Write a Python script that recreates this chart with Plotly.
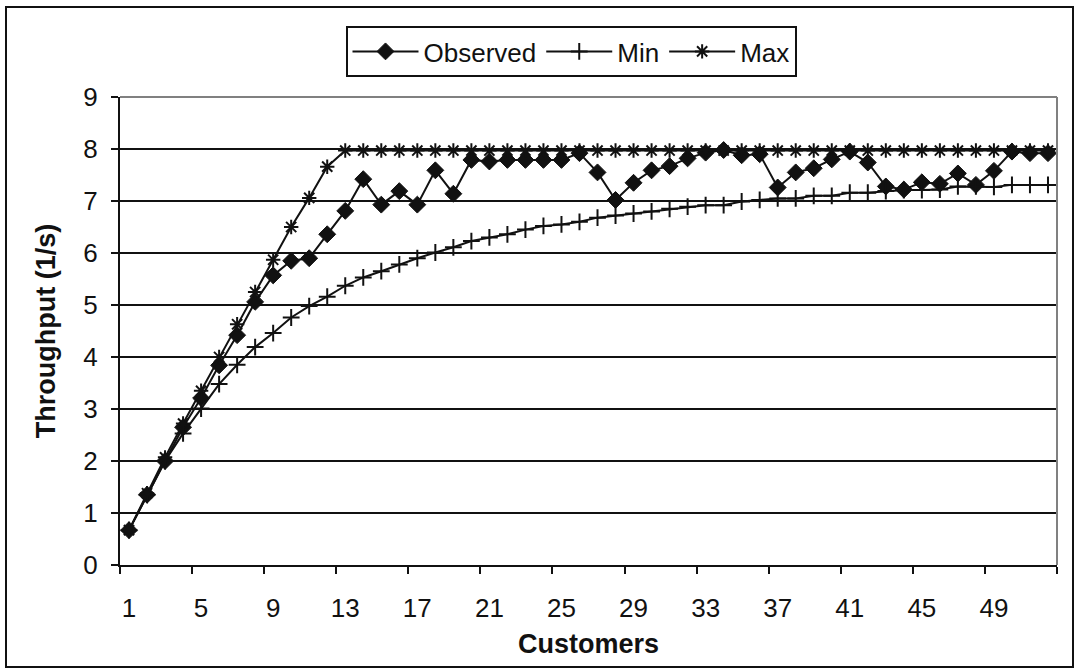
import plotly.graph_objects as go

customers = list(range(1, 53))
tick_labels = [1, 5, 9, 13, 17, 21, 25, 29, 33, 37, 41, 45, 49]

observed = [0.67, 1.35, 2.00, 2.65, 3.21, 3.84, 4.42, 5.06, 5.57, 5.85,
            5.90, 6.36, 6.81, 7.42, 6.93, 7.19, 6.93, 7.59, 7.14, 7.79,
            7.76, 7.79, 7.79, 7.79, 7.79, 7.92, 7.55, 7.02, 7.35, 7.59,
            7.67, 7.82, 7.93, 7.98, 7.88, 7.90, 7.26, 7.55, 7.63, 7.80,
            7.95, 7.74, 7.28, 7.22, 7.36, 7.33, 7.53, 7.31, 7.58, 7.95,
            7.92, 7.92]
minimum = [0.67, 1.35, 2.00, 2.53, 3.01, 3.48, 3.85, 4.19, 4.46, 4.76,
           4.98, 5.16, 5.37, 5.53, 5.65, 5.78, 5.90, 6.01, 6.11, 6.23,
           6.30, 6.36, 6.45, 6.52, 6.55, 6.60, 6.68, 6.72, 6.76, 6.80,
           6.85, 6.89, 6.92, 6.92, 6.99, 7.02, 7.05, 7.05, 7.10, 7.10,
           7.16, 7.16, 7.19, 7.21, 7.21, 7.22, 7.28, 7.28, 7.27, 7.31,
           7.31, 7.31]
maximum = [0.67, 1.38, 2.07, 2.72, 3.35, 4.00, 4.63, 5.25, 5.87, 6.50,
           7.06, 7.66, 7.97, 7.97, 7.97, 7.97, 7.97, 7.97, 7.97, 7.97,
           7.97, 7.97, 7.97, 7.97, 7.97, 7.97, 7.97, 7.97, 7.97, 7.97,
           7.97, 7.97, 7.97, 7.97, 7.97, 7.97, 7.97, 7.97, 7.97, 7.97,
           7.97, 7.97, 7.97, 7.97, 7.97, 7.97, 7.97, 7.97, 7.97, 7.97,
           7.97, 7.97]

W, H = 1079, 672
ML, MR, MT, MB = 120, 22, 97, 107
PW, PH = W - ML - MR, H - MT - MB

def px_x(p):
    return (p - ML) / PW

def px_y(p):
    return (H - MB - p) / PH

FONT = "Liberation Sans, Arial, sans-serif"
INK = "#111111"

fig = go.Figure()
fig.add_trace(go.Scatter(
    x=customers, y=observed, name="Observed", mode="lines+markers",
    line=dict(color=INK, width=2),
    marker=dict(symbol="diamond", size=13, color=INK,
                line=dict(color=INK, width=1))))
fig.add_trace(go.Scatter(
    x=customers, y=minimum, name="Min", mode="lines+markers",
    line=dict(color=INK, width=2),
    marker=dict(symbol="cross-thin-open", size=12,
                line=dict(color=INK, width=2))))
fig.add_trace(go.Scatter(
    x=customers, y=maximum, name="Max", mode="lines+markers",
    line=dict(color=INK, width=2),
    marker=dict(symbol="asterisk-open", size=12,
                line=dict(color=INK, width=2))))

fig.update_layout(
    width=W, height=H,
    margin=dict(l=ML, r=MR, t=MT, b=MB),
    paper_bgcolor="white", plot_bgcolor="white",
    font=dict(family=FONT, size=26, color=INK),
    showlegend=True,
    legend=dict(orientation="h", x=px_x(571), xanchor="center",
                y=px_y(26), yanchor="top",
                bordercolor=INK, borderwidth=2,
                font=dict(size=26), itemwidth=66,
                tracegroupgap=0),
    xaxis=dict(range=[0.5, 52.5], tickmode="array", tickvals=tick_labels,
               ticktext=[str(t) for t in tick_labels], ticks="",
               showgrid=False, zeroline=False, showline=True,
               linecolor=INK, linewidth=2, ticklabelstandoff=19,
               minor=dict(tickmode="array",
                          tickvals=[0.5 + 4 * k for k in range(14)],
                          ticks="outside", ticklen=7, tickwidth=2,
                          tickcolor=INK, showgrid=False),
               title=dict(text="<b>Customers</b>", font=dict(size=27),
                          standoff=12)),
    yaxis=dict(range=[0, 9], dtick=1, ticks="outside", ticklen=7,
               tickwidth=2, tickcolor=INK, showgrid=True,
               gridcolor=INK, gridwidth=2, zeroline=False,
               showline=True, linecolor=INK, linewidth=2,
               ticklabelstandoff=8,
               title=dict(text="<b>Throughput (1/s)</b>", font=dict(size=27),
                          standoff=20)),
)

# gray plot-area border (top and right)
fig.add_shape(type="line", xref="paper", yref="paper", x0=0, x1=1, y0=1, y1=1,
              line=dict(color="#808080", width=2), layer="above")
fig.add_shape(type="line", xref="paper", yref="paper", x0=1, x1=1, y0=0, y1=1,
              line=dict(color="#808080", width=2), layer="above")
# outer chart frame
fig.add_shape(type="rect", xref="paper", yref="paper",
              x0=px_x(6), x1=px_x(1073), y0=px_y(667), y1=px_y(7),
              line=dict(color=INK, width=2), layer="above")

fig.write_html("out.html",
               config={"displayModeBar": False},
               post_script="document.body.style.margin='0';"
                           "document.body.style.overflow='hidden';")
